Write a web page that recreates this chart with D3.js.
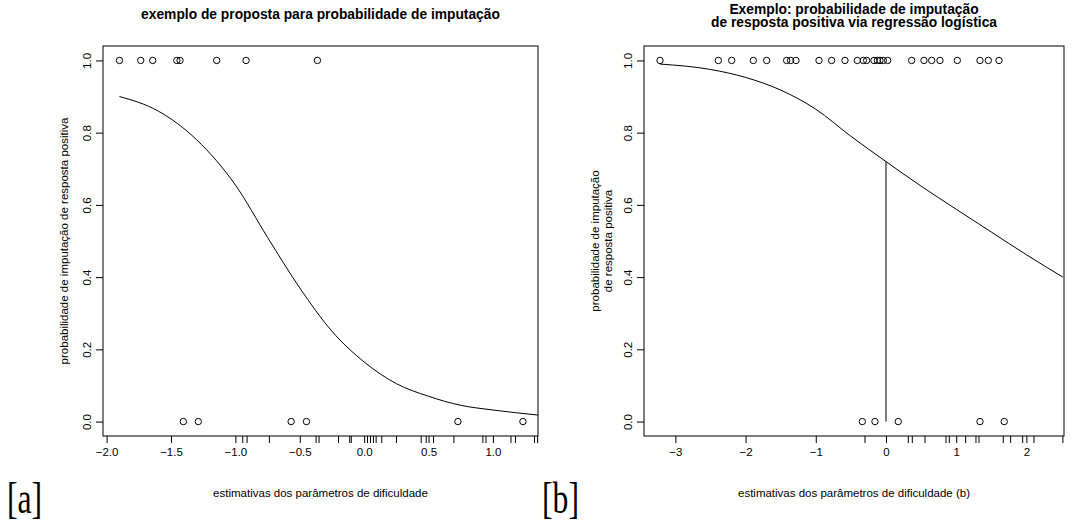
<!DOCTYPE html>
<html>
<head>
<meta charset="utf-8">
<script src="https://cdn.jsdelivr.net/npm/d3@7"></script>
<style>
  html, body { margin: 0; padding: 0; background: #fff; }
  svg { display: block; }
</style>
</head>
<body>
<svg id="chart" width="1079" height="522"></svg>
<script>
// ---- panel [a]: proposed imputation probability ----
const respondedA = [-1.900, -1.735, -1.642, -1.455, -1.430, -1.145, -0.917, -0.363];
const missedA    = [-1.404, -1.288, -0.567, -0.448, 0.728, 1.233];
const rugA       = [-0.943, -0.909, -0.736, -0.373, -0.350, -0.199, -0.112, -0.100,
                    0.026, 0.049, 0.072, 0.093, 0.137, 0.251, 0.443, 0.482, 0.539,
                    0.697, 0.922, 0.946, 1.140, 1.175, 1.323, 1.347];
const curveAx    = [-1.90, -1.60, -1.30, -1.00, -0.75, -0.50, -0.25, 0.00, 0.25, 0.50, 0.75, 1.00, 1.35];
const curveAp    = [0.900, 0.860, 0.780, 0.655, 0.510, 0.370, 0.250, 0.165, 0.105, 0.070, 0.045, 0.032, 0.018];
const xTicksA    = [-2.0, -1.5, -1.0, -0.5, 0.0, 0.5, 1.0];

// ---- panel [b]: logistic regression example ----
const respondedB = [-3.219, -2.388, -2.198, -1.890, -1.700, -1.415, -1.358, -1.282,
                    -0.954, -0.774, -0.584, -0.408, -0.323, -0.275, -0.171, -0.123,
                    -0.085, -0.038, 0.024, 0.366, 0.541, 0.651, 0.769, 1.016,
                    1.339, 1.458, 1.610];
const missedB    = [-0.337, -0.157, 0.175, 1.339, 1.685];
const rugB       = [-0.299, 0.318, 0.375, 0.556, 0.855, 0.902, 1.135, 1.282, 1.325,
                    1.671, 1.776, 1.947, 2.108, 2.520];
const curveBx    = [-3.22, -2.50, -2.00, -1.50, -1.00, -0.50, 0.00, 0.50, 1.00, 1.50, 2.00, 2.52];
const curveBp    = [0.990, 0.975, 0.953, 0.918, 0.865, 0.790, 0.720, 0.652, 0.588, 0.525, 0.462, 0.400];
const cutB       = 0.0;   // vertical reference at b = 0
const xTicksB    = [-3, -2, -1, 0, 1, 2];

const yTicks     = [0.0, 0.2, 0.4, 0.6, 0.8, 1.0];

const SANS  = "'Liberation Sans', Arial, Helvetica, sans-serif";
const SERIF = "'Liberation Serif', 'Times New Roman', serif";
const FS    = "11.5px";   // axis text
const FT    = "13.8px";   // main title

const svg = d3.select("#chart");

function panel(cfg) {
  const g = svg.append("g");
  const x = d3.scaleLinear().domain(cfg.xDomain).range([cfg.left, cfg.right]);
  const y = d3.scaleLinear().domain([-0.04, 1.04]).range([cfg.bottom, cfg.top]);
  const tick = 7;

  // frame
  g.append("rect")
    .attr("x", cfg.left).attr("y", cfg.top)
    .attr("width", cfg.right - cfg.left).attr("height", cfg.bottom - cfg.top)
    .attr("fill", "none").attr("stroke", "#000").attr("stroke-width", 1);

  // x axis
  const xAxis = d3.axisBottom(x).tickValues(cfg.xTicks).tickSize(tick).tickPadding(5)
    .tickFormat(cfg.xFormat);
  const gx = g.append("g").attr("transform", `translate(0,${cfg.bottom})`).call(xAxis);
  gx.select(".domain").remove();
  gx.selectAll("text").style("font-size", FS).style("font-family", SANS).attr("fill", "#000");

  // y axis, labels rotated along the axis
  const yAxis = d3.axisLeft(y).tickValues(yTicks).tickSize(tick).tickFormat(d3.format(".1f"));
  const gy = g.append("g").attr("transform", `translate(${cfg.left},0)`).call(yAxis);
  gy.select(".domain").remove();
  gy.selectAll(".tick text").remove();
  gy.selectAll(".tick").append("text")
    .attr("transform", `translate(${-tick - 5},0) rotate(-90)`)
    .attr("text-anchor", "middle")
    .style("font-size", FS).style("font-family", SANS)
    .attr("fill", "#000")
    .text(d => d3.format(".1f")(d));

  // rug under the axis
  g.append("g").selectAll("line").data(cfg.rug).join("line")
    .attr("x1", d => x(d)).attr("x2", d => x(d))
    .attr("y1", cfg.bottom).attr("y2", cfg.bottom + tick)
    .attr("stroke", "#000").attr("stroke-width", 1);

  // fitted / proposed curve
  const pts = cfg.curveX.map((v, i) => [v, cfg.curveP[i]]);
  g.append("path")
    .datum(pts)
    .attr("d", d3.line().x(d => x(d[0])).y(d => y(d[1])).curve(d3.curveMonotoneX))
    .attr("fill", "none").attr("stroke", "#000").attr("stroke-width", 1);

  // optional vertical reference line from 0 up to the curve
  if (cfg.cut !== undefined) {
    const i = cfg.curveX.indexOf(cfg.cut);
    g.append("line")
      .attr("x1", x(cfg.cut)).attr("x2", x(cfg.cut))
      .attr("y1", y(0)).attr("y2", y(cfg.curveP[i]))
      .attr("stroke", "#000").attr("stroke-width", 1);
  }

  // observed responses
  const circ = g.append("g").attr("fill", "none").attr("stroke", "#000").attr("stroke-width", 1);
  circ.selectAll("circle.r1").data(cfg.ones).join("circle").attr("class", "r1")
    .attr("cx", d => x(d)).attr("cy", y(1)).attr("r", 3.2);
  circ.selectAll("circle.r0").data(cfg.zeros).join("circle").attr("class", "r0")
    .attr("cx", d => x(d)).attr("cy", y(0)).attr("r", 3.2);

  // titles
  const cx = (cfg.left + cfg.right) / 2;
  cfg.title.forEach((t, i) => {
    g.append("text").attr("x", cx).attr("y", cfg.titleY + i * 13.5)
      .attr("text-anchor", "middle")
      .style("font-family", SANS).style("font-weight", "bold").style("font-size", FT)
      .text(t);
  });
  g.append("text").attr("x", cx).attr("y", 497)
    .attr("text-anchor", "middle")
    .style("font-family", SANS).style("font-size", FS).text(cfg.xlab);
  cfg.ylab.forEach((t, i, arr) => {
    const bx = cfg.ylabX - (arr.length - 1 - i) * 13;
    g.append("text")
      .attr("transform", `translate(${bx},${(cfg.top + cfg.bottom) / 2}) rotate(-90)`)
      .attr("text-anchor", "middle")
      .style("font-family", SANS).style("font-size", FS).text(t);
  });

  // panel tag
  svg.append("text")
    .attr("transform", `translate(${cfg.tagX},513) scale(0.72,1)`)
    .style("font-family", SERIF).style("font-size", "44px")
    .text(cfg.tag);
}

panel({
  left: 103, right: 538, top: 46, bottom: 436,
  xDomain: [-2.028, 1.35], xTicks: xTicksA, xFormat: d3.format(".1f"),
  rug: rugA, curveX: curveAx, curveP: curveAp,
  ones: respondedA, zeros: missedA,
  title: ["exemplo de proposta para probabilidade de imputação"], titleY: 19,
  xlab: "estimativas dos parâmetros de dificuldade",
  ylab: ["probabilidade de imputação de resposta positiva"], ylabX: 68,
  tag: "[a]", tagX: 7
});

panel({
  left: 644, right: 1064, top: 46, bottom: 436,
  xDomain: [-3.447, 2.536], xTicks: xTicksB, xFormat: d3.format("d"),
  rug: rugB, curveX: curveBx, curveP: curveBp, cut: cutB,
  ones: respondedB, zeros: missedB,
  title: ["Exemplo: probabilidade de imputação", "de resposta positiva via regressão logística"], titleY: 13.5,
  xlab: "estimativas dos parâmetros de dificuldade (b)",
  ylab: ["probabilidade de imputação", "de resposta positiva"], ylabX: 612,
  tag: "[b]", tagX: 542
});
</script>
</body>
</html>
